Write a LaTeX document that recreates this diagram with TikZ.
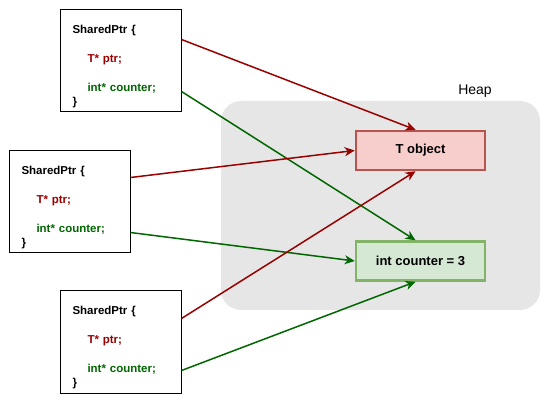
\documentclass[tikz,border=0pt]{standalone}
\usepackage{fontspec}
\setmainfont{Liberation Sans}
\usetikzlibrary{positioning,arrows.meta}
\definecolor{ptrred}{HTML}{990000}
\definecolor{cntgreen}{HTML}{006600}
\definecolor{heapgray}{HTML}{E6E6E6}
\definecolor{objfill}{HTML}{F8CECC}
\definecolor{objline}{HTML}{B85450}
\definecolor{cntfill}{HTML}{D5E8D4}
\definecolor{cntline}{HTML}{82B366}
\tikzset{
  >={Stealth[length=10pt,width=9pt,inset=3pt]},
  ptrbox/.style={draw=black, line width=1pt, minimum width=121pt,
                 minimum height=102pt, inner sep=0pt},
  code/.style={align=left, inner sep=0pt, text width=100pt,
               font=\fontsize{11.5}{14.5}\selectfont\bfseries},
  heapnode/.style={line width=2.5pt, minimum width=129pt, minimum height=39pt,
                   font=\fontsize{13}{15}\selectfont\bfseries},
  toobj/.style={->, ptrred, line width=1.5pt},
  tocnt/.style={->, cntgreen, line width=1.5pt},
}
\newcommand{\sharedtext}{SharedPtr \{\\[14.5pt]
  \hspace*{15pt}\textcolor{ptrred}{T* ptr;}\\[14.5pt]
  \hspace*{15pt}\textcolor{cntgreen}{int* counter;}\\
  \}}

\begin{document}
\begin{tikzpicture}[x=1pt, y=-1pt]
    \useasboundingbox (0,0) rectangle (551,411);
    % heap area
    \fill[heapgray, rounded corners=20pt] (221,101) rectangle (540,310);
    \node[font=\fontsize{14}{16}\selectfont] (heaplbl) at (475,91) {Heap};
    \node[heapnode, draw=objline, fill=objfill] (obj) at (420.5,150.5) {T object};
    \node[heapnode, draw=cntline, fill=cntfill] (cnt) at (420.5,261) {int counter = 3};
    % shared pointers
    \node[ptrbox] (sp1) at (120.5,61) {};
    \node[ptrbox] (sp2) at (69.5,202) {};
    \node[ptrbox] (sp3) at (120.5,342) {};
    \node[code] (txt1) at ([xshift=2pt,yshift=-5.5pt]sp1.center) {\sharedtext};
    \node[code] (txt2) at ([xshift=2pt,yshift=-5.5pt]sp2.center) {\sharedtext};
    \node[code] (txt3) at ([xshift=2pt,yshift=-5.5pt]sp3.center) {\sharedtext};
    % pointers into the heap
    \draw[toobj] ([yshift=-30pt]sp1.north east) -- ([xshift=-5pt]obj.north);
    \draw[tocnt] ([yshift=-82pt]sp1.north east) -- ([xshift=-5pt]cnt.north);
    \draw[toobj] ([yshift=-27pt]sp2.north east) -- (obj.west);
    \draw[tocnt] ([yshift=-82pt]sp2.north east) -- (cnt.west);
    \draw[toobj] ([yshift=-28pt]sp3.north east) -- ([xshift=-5pt]obj.south);
    \draw[tocnt] ([yshift=-80pt]sp3.north east) -- ([xshift=-5pt]cnt.south);
\end{tikzpicture}
\end{document}
